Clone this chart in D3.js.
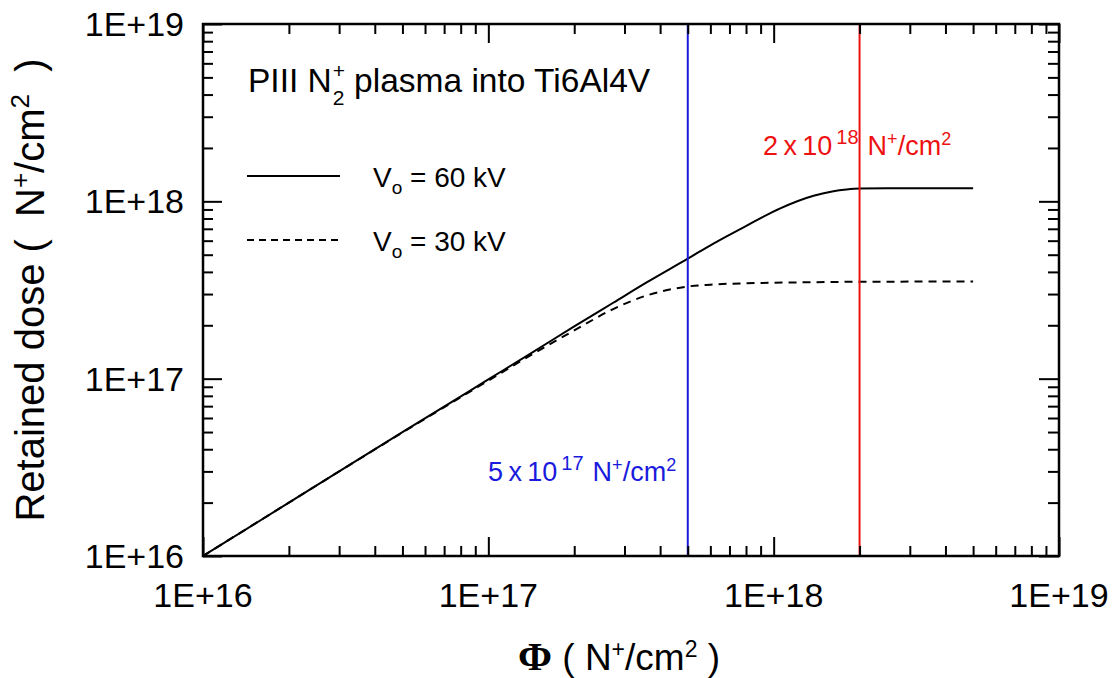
<!DOCTYPE html>
<html>
<head>
<meta charset="utf-8">
<script src="https://cdn.jsdelivr.net/npm/d3@7/dist/d3.min.js"></script>
<style>
  body { margin: 0; background: #fff; }
  text { font-family: "Liberation Sans", Arial, sans-serif; }
</style>
</head>
<body>
<svg id="chart" width="1117" height="678"></svg>
<script>
// ---- data ----
const fluence60 = [1e16, 2e16, 5e16, 1e17, 1.4e17, 2e17, 2.74e17, 3.6e17, 5e17, 6.15e17, 8.05e17, 1.05e18, 1.38e18, 1.62e18, 1.8e18, 2e18, 2.5e18, 5e18];
const dose60    = [1e16, 2e16, 4.99e16, 0.99e17, 1.38e17, 1.97e17, 2.68e17, 3.5e17, 4.75e17, 5.78e17, 7.3e17, 9.1e17, 1.075e18, 1.14e18, 1.165e18, 1.18e18, 1.185e18, 1.185e18];
const fluence30 = [1e16, 2e16, 5e16, 1e17, 1.4e17, 2e17, 2.74e17, 3.6e17, 4.2e17, 4.7e17, 5e17, 6e17, 8e17, 1.2e18, 2e18, 5e18];
const dose30    = [1e16, 2e16, 4.97e16, 0.975e17, 1.35e17, 1.87e17, 2.47e17, 2.95e17, 3.15e17, 3.26e17, 3.31e17, 3.39e17, 3.45e17, 3.49e17, 3.52e17, 3.53e17];
const seriesLabels = ["60 kV", "30 kV"];
const markerFluence = [5e17, 2e18];
const markerExp = ["17", "18"];
const markerMant = ["5", "2"];
const xTickValues = [1e16, 1e17, 1e18, 1e19];
const xTickLabels = ["1E+16", "1E+17", "1E+18", "1E+19"];
const yTickValues = [1e16, 1e17, 1e18, 1e19];
const yTickLabels = ["1E+16", "1E+17", "1E+18", "1E+19"];

// ---- layout ----
const L = 203, R = 1059, T = 24, B = 556;
const svg = d3.select("#chart");
const x = d3.scaleLog().domain([1e16, 1e19]).range([L, R]);
const y = d3.scaleLog().domain([1e16, 1e19]).range([B, T]);

const minor = [];
for (let d = 16; d < 19; d++) for (let k = 2; k <= 9; k++) minor.push(k * Math.pow(10, d));

// curves
const line = d3.line().x(d => x(d[0])).y(d => y(d[1])).curve(d3.curveMonotoneX);
svg.append("path").datum(d3.zip(fluence60, dose60)).attr("d", line)
  .attr("fill", "none").attr("stroke", "#000").attr("stroke-width", 2);
svg.append("path").datum(d3.zip(fluence30, dose30)).attr("d", line)
  .attr("fill", "none").attr("stroke", "#000").attr("stroke-width", 2)
  .attr("stroke-dasharray", "8,6");

// vertical marker lines
const mColors = ["#1a1adc", "#ee1111"];
markerFluence.forEach((f, i) => {
  svg.append("line").attr("x1", x(f)).attr("x2", x(f)).attr("y1", T).attr("y2", B)
    .attr("stroke", mColors[i]).attr("stroke-width", 2);
});

// axes (inward ticks on all four sides)
function styleAxis(g) {
  g.select(".domain").remove();
  g.selectAll("line").attr("stroke", "#000").attr("stroke-width", 2);
}
svg.append("g").attr("transform", `translate(0,${B})`)
  .call(d3.axisBottom(x).tickValues(minor).tickSize(-10).tickFormat("")).call(styleAxis);
svg.append("g").attr("transform", `translate(0,${B})`)
  .call(d3.axisBottom(x).tickValues(xTickValues).tickSize(-19).tickFormat("")).call(styleAxis);
svg.append("g").attr("transform", `translate(0,${T})`)
  .call(d3.axisTop(x).tickValues(minor).tickSize(-10).tickFormat("")).call(styleAxis);
svg.append("g").attr("transform", `translate(0,${T})`)
  .call(d3.axisTop(x).tickValues(xTickValues).tickSize(-19).tickFormat("")).call(styleAxis);
svg.append("g").attr("transform", `translate(${L},0)`)
  .call(d3.axisLeft(y).tickValues(minor).tickSize(-10).tickFormat("")).call(styleAxis);
svg.append("g").attr("transform", `translate(${L},0)`)
  .call(d3.axisLeft(y).tickValues(yTickValues).tickSize(-19).tickFormat("")).call(styleAxis);
svg.append("g").attr("transform", `translate(${R},0)`)
  .call(d3.axisRight(y).tickValues(minor).tickSize(-11).tickFormat("")).call(styleAxis);
svg.append("g").attr("transform", `translate(${R},0)`)
  .call(d3.axisRight(y).tickValues(yTickValues).tickSize(-20).tickFormat("")).call(styleAxis);

// frame
svg.append("rect").attr("x", L).attr("y", T).attr("width", R - L).attr("height", B - T)
  .attr("fill", "none").attr("stroke", "#000").attr("stroke-width", 2.5);

// tick labels
svg.selectAll(".xl").data(xTickValues).enter().append("text")
  .attr("x", d => x(d)).attr("y", 607).attr("text-anchor", "middle")
  .attr("font-size", 34).text((d, i) => xTickLabels[i]);
svg.selectAll(".yl").data(yTickValues).enter().append("text")
  .attr("x", 184).attr("y", d => y(d) + 12).attr("text-anchor", "end")
  .attr("font-size", 34).text((d, i) => yTickLabels[i]);

// x title
const xt = svg.append("text").attr("x", 518).attr("y", 670).attr("text-anchor", "start")
  .attr("font-size", 37).attr("xml:space", "preserve");
xt.append("tspan").attr("font-family", "Liberation Serif, Times New Roman, serif").attr("font-weight", "bold").attr("font-size", 41).text("Φ");
xt.append("tspan").text(" ( N");
xt.append("tspan").attr("font-size", 23).attr("dy", -13).text("+");
xt.append("tspan").attr("dy", 13).text("/cm");
xt.append("tspan").attr("font-size", 23).attr("dy", -13).text("2");
xt.append("tspan").attr("dy", 13).text(" )");

// y title
const yt = svg.append("text").attr("transform", "translate(44,290) rotate(-90)")
  .attr("text-anchor", "middle").attr("font-size", 40).attr("xml:space", "preserve");
yt.append("tspan").text("Retained dose (  N");
yt.append("tspan").attr("font-size", 26).attr("dy", -15).text("+");
yt.append("tspan").attr("dy", 15).text("/cm");
yt.append("tspan").attr("font-size", 26).attr("dy", -15).text("2");
yt.append("tspan").attr("dy", 15).text("  )");

// plot title with stacked sub/superscript
const t1 = svg.append("text").attr("x", 248).attr("y", 92).attr("font-size", 33.5).text("PIII N");
const w1 = t1.node().getComputedTextLength();
svg.append("text").attr("x", 248 + w1 + 1).attr("y", 105).attr("font-size", 21).text("2");
svg.append("text").attr("x", 248 + w1 + 1).attr("y", 78).attr("font-size", 21).text("+");
svg.append("text").attr("x", 248 + w1 + 13).attr("y", 92).attr("font-size", 33.5).attr("xml:space", "preserve").text(" plasma into Ti6Al4V");

// legend
const legY = [176, 240];
const dashes = [null, "7,5"];
seriesLabels.forEach((lab, i) => {
  const l = svg.append("line").attr("x1", 247).attr("x2", 340).attr("y1", legY[i]).attr("y2", legY[i])
    .attr("stroke", "#000").attr("stroke-width", 2);
  if (dashes[i]) l.attr("stroke-dasharray", dashes[i]);
  const t = svg.append("text").attr("x", 373).attr("y", legY[i] + 11).attr("font-size", 28);
  t.append("tspan").text("V");
  t.append("tspan").attr("font-size", 19).attr("dy", 7).text("o");
  t.append("tspan").attr("dy", -7).text(" = " + lab);
});

// marker annotations
const annX = [488, 763], annY = [481, 155];
markerFluence.forEach((f, i) => {
  const t = svg.append("text").attr("x", annX[i]).attr("y", annY[i]).attr("font-size", 27).attr("fill", mColors[i]);
  t.append("tspan").text(markerMant[i] + "\u2009x\u200910");
  t.append("tspan").attr("font-size", 20).attr("dy", -11).attr("dx", 4).text(markerExp[i]);
  t.append("tspan").attr("dy", 11).attr("dx", 9).text("N");
  t.append("tspan").attr("font-size", 18).attr("dy", -10).text("+");
  t.append("tspan").attr("dy", 10).text("/cm");
  t.append("tspan").attr("font-size", 18).attr("dy", -10).text("2");
});
</script>
</body>
</html>
